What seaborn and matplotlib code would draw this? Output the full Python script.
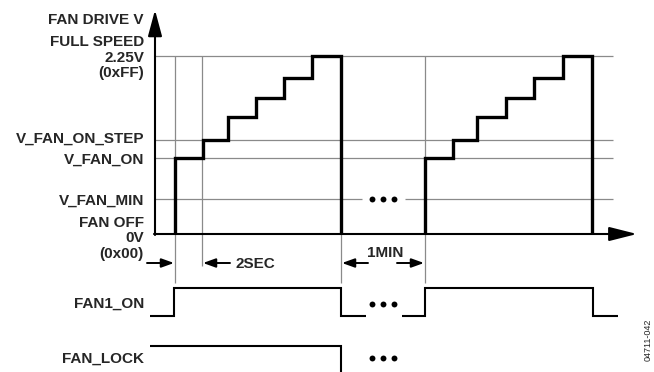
import matplotlib
matplotlib.use("Agg")
import matplotlib.pyplot as plt
import seaborn as sns
import pandas as pd

sns.set_theme(style="white")
plt.rcParams['font.family'] = ['Liberation Sans', 'DejaVu Sans']

# ---- data (diagram coordinates: x = time position, y = level row) ----
step_times_1 = [175, 203, 228, 256, 284, 312, 341]
step_times_2 = [425, 453, 477, 506, 534, 563, 592]
step_levels = [158, 140, 117, 98, 78, 56]
axis_level = 234
full_speed_level = 56
fan_on_step_level = 140
fan_on_level = 158
fan_min_level = 199

fan1_hi, fan1_lo = 288, 316
lock_hi = 346

level_labels = [
    ("FAN DRIVE V", 20), ("FULL SPEED", 42), ("2.25V", 58), ("(0xFF)", 73),
    ("V_FAN_ON_STEP", 139), ("V_FAN_ON", 160), ("V_FAN_MIN", 201),
    ("FAN OFF", 223), ("0V", 238), ("(0x00)", 254),
    ("FAN1_ON", 304), ("FAN_LOCK", 359),
]

fig = plt.figure(figsize=(6.54, 3.72), dpi=100)
ax = fig.add_axes([0, 0, 1, 1])
ax.set_xlim(0, 654)
ax.set_ylim(372, 0)
ax.axis("off")

GREY = "#8a8a8a"
FS = 11

def poly(xs, ys, color="black", lw=2.2):
    df = pd.DataFrame({"x": xs, "y": ys})
    sns.lineplot(data=df, x="x", y="y", sort=False, estimator=None,
                 color=color, linewidth=lw, ax=ax, legend=False,
                 solid_joinstyle="miter", solid_capstyle="butt")

# grey reference lines
for lvl in [full_speed_level, fan_on_step_level, fan_on_level]:
    poly([155, 613], [lvl, lvl], GREY, 0.9)
poly([155, 362], [fan_min_level] * 2, GREY, 0.9)
poly([405, 613], [fan_min_level] * 2, GREY, 0.9)
poly([175, 175], [56, 283], GREY, 0.9)
poly([202, 202], [56, 266], GREY, 0.9)
poly([341, 341], [234, 283], GREY, 0.9)
poly([425, 425], [56, 283], GREY, 0.9)

# staircases
def stairs(times):
    xs, ys = [times[0]], [axis_level]
    for i, lvl in enumerate(step_levels):
        xs += [times[i], times[i + 1]]
        ys += [lvl, lvl]
    xs.append(times[-1]); ys.append(axis_level)
    return xs, ys

for tt in (step_times_1, step_times_2):
    xs, ys = stairs(tt)
    poly(xs, ys, "black", 2.4)

# axes with arrows
ax.annotate("", xy=(155, 10), xytext=(155, 235),
            arrowprops=dict(arrowstyle="-|>,head_length=1.6,head_width=0.43",
                            mutation_scale=10, lw=1.5, color="black",
                            shrinkA=0, shrinkB=0))
ax.annotate("", xy=(637, 234), xytext=(154, 234),
            arrowprops=dict(arrowstyle="-|>,head_length=1.7,head_width=0.43",
                            mutation_scale=10, lw=1.5, color="black",
                            shrinkA=0, shrinkB=0))

# FAN1_ON
poly([150, 174, 174, 341, 341, 366], [fan1_lo, fan1_lo, fan1_hi, fan1_hi, fan1_lo, fan1_lo], "black", 1.5)
poly([402, 425, 425, 593, 593, 618], [fan1_lo, fan1_lo, fan1_hi, fan1_hi, fan1_lo, fan1_lo], "black", 1.5)
# FAN_LOCK
poly([150, 341, 341], [lock_hi, lock_hi, 380], "black", 1.5)

# ellipsis dots
for yy in [fan_min_level, 304, 358]:
    ax.scatter([372, 383, 394], [yy] * 3, s=18, color="black", zorder=5, linewidths=0)

# small timing arrows
small = dict(arrowstyle="-|>,head_length=0.75,head_width=0.27",
             mutation_scale=10, lw=1.4, color="black", shrinkA=0, shrinkB=0)
ax.annotate("", xy=(174, 263), xytext=(147, 263), arrowprops=small)
ax.annotate("", xy=(203, 263), xytext=(230, 263), arrowprops=small)
ax.annotate("", xy=(342, 263), xytext=(368, 263), arrowprops=small)
ax.annotate("", xy=(424, 263), xytext=(397, 263), arrowprops=small)
ax.text(235, 264, "2SEC", fontsize=FS, fontweight="bold", ha="left", va="center")
ax.text(385, 253, "1MIN", fontsize=FS, fontweight="bold", ha="center", va="center")

# labels
for txt, yy in level_labels:
    ax.text(144, yy, txt, fontsize=FS, fontweight="bold", ha="right", va="center")

ax.text(648, 340, "04711-042", fontsize=6.5, rotation=90, ha="center", va="center")

fig.savefig("out.png", dpi=100)
